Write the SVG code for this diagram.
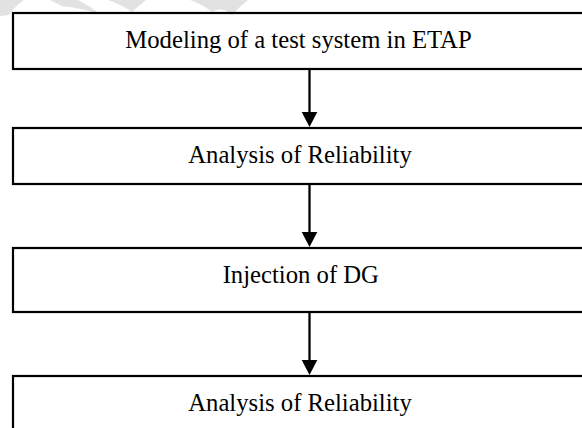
<svg xmlns="http://www.w3.org/2000/svg" width="582" height="428" viewBox="0 0 582 428">
<style>
.box{fill:none;stroke:#000;stroke-width:2.2}
.lbl{font-family:"Liberation Serif","Times New Roman",serif;font-size:24.7px;fill:#000;text-anchor:middle}
.wm{fill:#e2e2e2}
.conn line{stroke:#000;stroke-width:2.3}
.conn polygon{fill:#000}
</style>
<rect width="582" height="428" fill="#fff"/>
<g id="watermark">
<path class="wm" d="M0,0 L24,0 Q14,7 9,15 L0,16 Z"/>
<path class="wm" d="M50,0 L78,0 Q90,6 100,14 Q80,8 62,6 Z"/>
<path class="wm" d="M108,0 L146,0 Q138,6 132,12 Q122,5 108,0 Z"/>
<path class="wm" d="M190,0 L248,0 Q238,8 232,15 Q222,6 212,12 Q202,4 190,0 Z"/>
</g>
<g id="node1">
<rect class="box" x="13" y="13" width="580" height="56"/>
<text class="lbl" x="298.5" y="48">Modeling of a test system in ETAP</text>
</g>
<g id="node2">
<rect class="box" x="13" y="128" width="580" height="56"/>
<text class="lbl" x="300" y="163">Analysis of Reliability</text>
</g>
<g id="node3">
<rect class="box" x="13" y="248" width="580" height="64"/>
<text class="lbl" x="300.8" y="282.5">Injection of DG</text>
</g>
<g id="node4">
<rect class="box" x="13" y="376" width="580" height="70"/>
<text class="lbl" x="300" y="411">Analysis of Reliability</text>
</g>
<g id="connectors" class="conn">
<line x1="309.5" y1="70" x2="309.5" y2="113"/>
<polygon points="301.7,112 317.3,112 309.5,127"/>
<line x1="309.5" y1="185" x2="309.5" y2="233"/>
<polygon points="301.7,232 317.3,232 309.5,247"/>
<line x1="309.5" y1="313" x2="309.5" y2="361"/>
<polygon points="301.7,360 317.3,360 309.5,375"/>
</g>
</svg>
